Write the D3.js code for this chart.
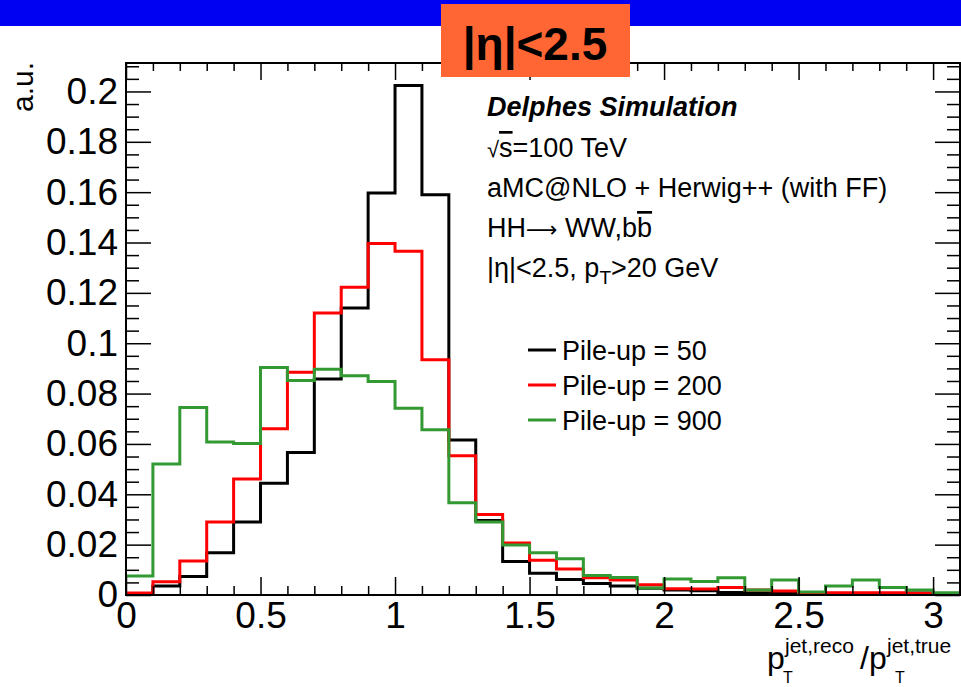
<!DOCTYPE html>
<html>
<head>
<meta charset="utf-8">
<script src="https://cdn.jsdelivr.net/npm/d3@7"></script>
<style>
    body { margin: 0; background: #fff; }
    svg { display: block; font-family: "Liberation Sans", Arial, Helvetica, sans-serif; }
</style>
</head>
<body>
<div id="chart"></div>
<script>
// bin low edges, width 0.1
const binStarts = [0, 0.1, 0.2, 0.3, 0.4, 0.5, 0.6, 0.7, 0.8, 0.9, 1.0,
    1.1, 1.2, 1.3, 1.4, 1.5, 1.6, 1.7, 1.8, 1.9, 2.0,
    2.1, 2.2, 2.3, 2.4, 2.5, 2.6, 2.7, 2.8, 2.9, 3.0];
const binEnd = 3.1;

const pileup50 = [0.0005, 0.0036, 0.0073, 0.0168, 0.029, 0.0444, 0.0566, 0.0858, 0.114, 0.1597, 0.2024,
    0.159, 0.0616, 0.0296, 0.0133, 0.0086, 0.0062, 0.0046, 0.0036, 0.0027, 0.002,
    0.0017, 0.001, 0.0008, 0.0008, 0.0005, 0.0005, 0.0005, 0.0005, 0.0008, 0.0003];
const pileup200 = [0.0008, 0.0053, 0.0135, 0.029, 0.0461, 0.066, 0.0885, 0.112, 0.1222, 0.1396, 0.1365,
    0.0934, 0.0553, 0.032, 0.0207, 0.0138, 0.0103, 0.0069, 0.006, 0.0041, 0.0025,
    0.0024, 0.003, 0.002, 0.0016, 0.0007, 0.0009, 0.0009, 0.0009, 0.0007, 0.0003];
const pileup900 = [0.0075, 0.052, 0.0745, 0.0608, 0.0602, 0.0904, 0.0852, 0.0897, 0.0871, 0.0848, 0.0742,
    0.0656, 0.0366, 0.029, 0.0199, 0.0168, 0.0144, 0.0077, 0.007, 0.0028, 0.0064,
    0.0054, 0.0069, 0.002, 0.006, 0.0012, 0.0036, 0.006, 0.003, 0.002, 0.0009];

const seriesNames = ['Pile-up = 50', 'Pile-up = 200', 'Pile-up = 900'];
const seriesColors = ['#000000', '#ff0000', '#339933'];

const xMajorTicks = [0, 0.5, 1, 1.5, 2, 2.5, 3];
const xMinorTicks = [0.1, 0.2, 0.3, 0.4, 0.6, 0.7, 0.8, 0.9, 1.1, 1.2, 1.3, 1.4, 1.6, 1.7, 1.8, 1.9,
    2.1, 2.2, 2.3, 2.4, 2.6, 2.7, 2.8, 2.9, 3.1];
const yMajorTicks = [0, 0.02, 0.04, 0.06, 0.08, 0.1, 0.12, 0.14, 0.16, 0.18, 0.2];
const yTickLabels = ['0', '0.02', '0.04', '0.06', '0.08', '0.1', '0.12', '0.14', '0.16', '0.18', '0.2'];
const yMinorTicks = [0.005, 0.01, 0.015, 0.025, 0.03, 0.035, 0.045, 0.05, 0.055, 0.065, 0.07, 0.075,
    0.085, 0.09, 0.095, 0.105, 0.11, 0.115, 0.125, 0.13, 0.135, 0.145, 0.15, 0.155,
    0.165, 0.17, 0.175, 0.185, 0.19, 0.195, 0.205, 0.21];

const infoLines = ['√s=100 TeV', 'aMC@NLO + Herwig++ (with FF)', 'HH→ WW,bb', '|η|<2.5, pT>20 GeV'];

const width = 961;
const height = 687;
const plot = { left: 126, right: 960, top: 63, bottom: 595 };

const svg = d3.select('#chart')
    .append('svg')
    .attr('width', width)
    .attr('height', height);

const x = d3.scaleLinear()
    .domain([0, binEnd])
    .range([plot.left, plot.right]);

const y = d3.scaleLinear()
    .domain([0, 0.2113])
    .range([plot.bottom, plot.top]);

// banner
svg.append('rect')
    .attr('x', 0).attr('y', 0)
    .attr('width', width).attr('height', 26)
    .attr('fill', '#0000f2');

// histograms
const histLine = d3.line()
    .x(d => x(d[0]))
    .y(d => y(d[1]))
    .curve(d3.curveStepAfter);

[pileup50, pileup200, pileup900].forEach((vals, i) => {
    const pts = binStarts.map((b, j) => [b, vals[j]]);
    pts.push([binEnd, vals[vals.length - 1]]);
    svg.append('path')
        .datum(pts)
        .attr('d', histLine)
        .attr('fill', 'none')
        .attr('stroke', seriesColors[i])
        .attr('stroke-width', 3);
});

// axes, ticks on all four sides
function styleAxis(g) {
    g.select('.domain').remove();
    g.selectAll('.tick line').attr('stroke', '#000').attr('stroke-width', 1.5);
    g.selectAll('.tick text').attr('fill', '#000').style('font-size', '37px');
}

svg.append('g')
    .attr('transform', `translate(0,${plot.bottom})`)
    .call(d3.axisBottom(x).tickValues(xMajorTicks).tickSize(-18).tickPadding(7).tickFormat(d => String(d)))
    .call(styleAxis);
svg.append('g')
    .attr('transform', `translate(0,${plot.bottom})`)
    .call(d3.axisBottom(x).tickValues(xMinorTicks).tickSize(-9).tickFormat(''))
    .call(styleAxis);
svg.append('g')
    .attr('transform', `translate(0,${plot.top})`)
    .call(d3.axisTop(x).tickValues(xMajorTicks).tickSize(-17).tickFormat(''))
    .call(styleAxis);
svg.append('g')
    .attr('transform', `translate(0,${plot.top})`)
    .call(d3.axisTop(x).tickValues(xMinorTicks).tickSize(-8).tickFormat(''))
    .call(styleAxis);

svg.append('g')
    .attr('transform', `translate(${plot.left},0)`)
    .call(d3.axisLeft(y).tickValues(yMajorTicks).tickSize(-25).tickPadding(8)
        .tickFormat((d, i) => yTickLabels[i]))
    .call(styleAxis);
svg.append('g')
    .attr('transform', `translate(${plot.left},0)`)
    .call(d3.axisLeft(y).tickValues(yMinorTicks).tickSize(-13).tickFormat(''))
    .call(styleAxis);
svg.append('g')
    .attr('transform', `translate(${plot.right},0)`)
    .call(d3.axisRight(y).tickValues(yMajorTicks).tickSize(-25).tickFormat(''))
    .call(styleAxis);
svg.append('g')
    .attr('transform', `translate(${plot.right},0)`)
    .call(d3.axisRight(y).tickValues(yMinorTicks).tickSize(-13).tickFormat(''))
    .call(styleAxis);

// frame
svg.append('rect')
    .attr('x', plot.left).attr('y', plot.top)
    .attr('width', plot.right - plot.left).attr('height', plot.bottom - plot.top)
    .attr('fill', 'none')
    .attr('stroke', '#000')
    .attr('stroke-width', 2);

// y title
svg.append('text')
    .attr('transform', `translate(33,62) rotate(-90)`)
    .attr('text-anchor', 'end')
    .style('font-size', '30px')
    .text('a.u.');

// x title
const xt = svg.append('g').style('font-size', '32px');
xt.append('text').attr('x', 767).attr('y', 669).text('p');
xt.append('text').attr('x', 785).attr('y', 653).style('font-size', '21px').text('jet,reco');
xt.append('text').attr('x', 783).attr('y', 683).style('font-size', '16px').text('T');
xt.append('text').attr('x', 860).attr('y', 669).text('/p');
xt.append('text').attr('x', 887).attr('y', 653).style('font-size', '21px').text('jet,true');
xt.append('text').attr('x', 895).attr('y', 683).style('font-size', '16px').text('T');

// info text
const info = svg.append('g').style('font-size', '27px');
info.append('text')
    .attr('x', 487).attr('y', 116)
    .style('font-weight', 'bold')
    .style('font-style', 'italic')
    .text('Delphes Simulation');

const sq = info.append('text').attr('x', 487).attr('y', 157);
sq.append('tspan').style('font-size', '22px').text('√');
sq.append('tspan').style('text-decoration', 'overline').text('s');
sq.append('tspan').text('=100 TeV');

info.append('text').attr('x', 487).attr('y', 197).text(infoLines[1]);

const hh = info.append('text').attr('x', 487).attr('y', 237);
hh.append('tspan').text('HH');
hh.append('tspan').style('font-family', '"DejaVu Sans", sans-serif').style('font-size', '22px').text('⟶');
hh.append('tspan').text(' WW,b');
hh.append('tspan').style('text-decoration', 'overline').text('b');

const eta = info.append('text').attr('x', 487).attr('y', 277);
eta.append('tspan').text('|η|<2.5, p');
eta.append('tspan').attr('dy', 7).style('font-size', '19px').text('T');
eta.append('tspan').attr('dy', -7).text('>20 GeV');

// legend
const legend = svg.append('g');
seriesNames.forEach((name, i) => {
    const ly = 350 + i * 35;
    legend.append('line')
        .attr('x1', 528).attr('x2', 556)
        .attr('y1', ly).attr('y2', ly)
        .attr('stroke', seriesColors[i])
        .attr('stroke-width', 3);
    legend.append('text')
        .attr('x', 562).attr('y', ly + 10)
        .style('font-size', '27px')
        .text(name);
});

// orange label box
svg.append('rect')
    .attr('x', 441).attr('y', 4)
    .attr('width', 189).attr('height', 73)
    .attr('fill', '#ff6633');
svg.append('text')
    .attr('x', 535).attr('y', 60)
    .attr('text-anchor', 'middle')
    .style('font-family', '"Liberation Sans Narrow", "Arial Narrow", "Liberation Sans", sans-serif')
    .style('font-weight', 'bold')
    .style('font-size', '46px')
    .text('|η|<2.5');
</script>
</body>
</html>
